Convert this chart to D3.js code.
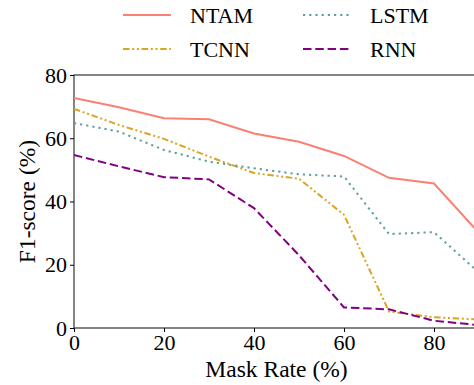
<!DOCTYPE html>
<html>
<head>
<meta charset="utf-8">
<script src="https://cdn.jsdelivr.net/npm/d3@7"></script>
<style>
  body { margin: 0; background: #fff; }
</style>
</head>
<body>
<div id="chart"></div>
<script>
// mask rates and F1 scores
const maskRates = [0, 10, 20, 30, 40, 50, 60, 70, 80, 90];
const ntam = [72.7, 69.8, 66.3, 66.0, 61.5, 58.9, 54.4, 47.5, 45.7, 30.0];
const tcnn = [69.3, 64.2, 59.8, 54.2, 49.0, 47.2, 35.8, 5.2, 3.4, 2.7];
const lstm = [64.8, 62.1, 56.3, 52.6, 50.5, 48.6, 47.9, 29.7, 30.3, 17.5];
const rnn = [54.7, 51.1, 47.7, 47.0, 37.9, 23.0, 6.5, 5.9, 2.3, 0.9];
const xTicks = [0, 20, 40, 60, 80];
const yTicks = [0, 20, 40, 60, 80];

const series = [
  { name: "NTAM", values: ntam, color: "#fa8072", dash: null },
  { name: "TCNN", values: tcnn, color: "#daa520", dash: "6.5,2.7,2,2.7,2,2.7" },
  { name: "LSTM", values: lstm, color: "#5f9ea0", dash: "2.2,4" },
  { name: "RNN", values: rnn, color: "#800080", dash: "8.5,3.8" }
];

const W = 474, H = 385;
const margin = { left: 74, top: 75, right: -5, bottom: 57 };
const width = W - margin.left - margin.right;
const height = H - margin.top - margin.bottom;
const fs = 22;
const serif = "'Liberation Serif'";

const svg = d3.select("#chart").append("svg")
  .attr("width", W)
  .attr("height", H);

const g = svg.append("g")
  .attr("transform", "translate(" + margin.left + "," + margin.top + ")");

const x = d3.scaleLinear().domain([0, 90]).range([0, width]);
const y = d3.scaleLinear().domain([0, 80]).range([height, 0]);

// axes
const xAxis = g.append("g")
  .attr("transform", "translate(0," + height + ")")
  .call(d3.axisBottom(x).tickValues(xTicks).tickSize(4).tickPadding(2));
const yAxis = g.append("g")
  .call(d3.axisLeft(y).tickValues(yTicks).tickSize(4).tickPadding(3));

[xAxis, yAxis].forEach(a => {
  a.select(".domain").remove();
  a.selectAll("line").attr("stroke", "#000").attr("stroke-width", 1);
  a.selectAll("text")
    .style("font-family", serif)
    .style("font-size", fs + "px")
    .attr("fill", "#000");
});

// frame
g.append("rect")
  .attr("width", width).attr("height", height)
  .attr("fill", "none").attr("stroke", "#222").attr("stroke-width", 1.1);

// lines
const line = d3.line()
  .x((d, i) => x(maskRates[i]))
  .y(d => y(d));

series.forEach(s => {
  g.append("path")
    .datum(s.values)
    .attr("fill", "none")
    .attr("stroke", s.color)
    .attr("stroke-width", 2)
    .attr("stroke-dasharray", s.dash)
    .attr("d", line);
});

// axis labels
svg.append("text")
  .attr("x", margin.left + width / 2)
  .attr("y", 377)
  .attr("text-anchor", "middle")
  .style("font-family", serif)
  .style("font-size", "23.5px")
  .text("Mask Rate (%)");

svg.append("text")
  .attr("transform", "translate(35," + (margin.top + height / 2) + ") rotate(-90)")
  .attr("text-anchor", "middle")
  .style("font-family", serif)
  .style("font-size", "23.5px")
  .text("F1-score (%)");

// legend, two columns
const legendPos = [
  { x: 123, y: 15 }, { x: 123, y: 49 },
  { x: 303, y: 15 }, { x: 303, y: 49 }
];
series.forEach((s, i) => {
  const p = legendPos[i];
  const lg = svg.append("g").attr("transform", "translate(" + p.x + "," + p.y + ")");
  lg.append("line")
    .attr("x1", 0).attr("x2", 48).attr("y1", 0).attr("y2", 0)
    .attr("stroke", s.color).attr("stroke-width", 2)
    .attr("stroke-dasharray", s.dash);
  lg.append("text")
    .attr("x", 67).attr("y", 8)
    .style("font-family", serif)
    .style("font-size", fs + "px")
    .text(s.name);
});
</script>
</body>
</html>
